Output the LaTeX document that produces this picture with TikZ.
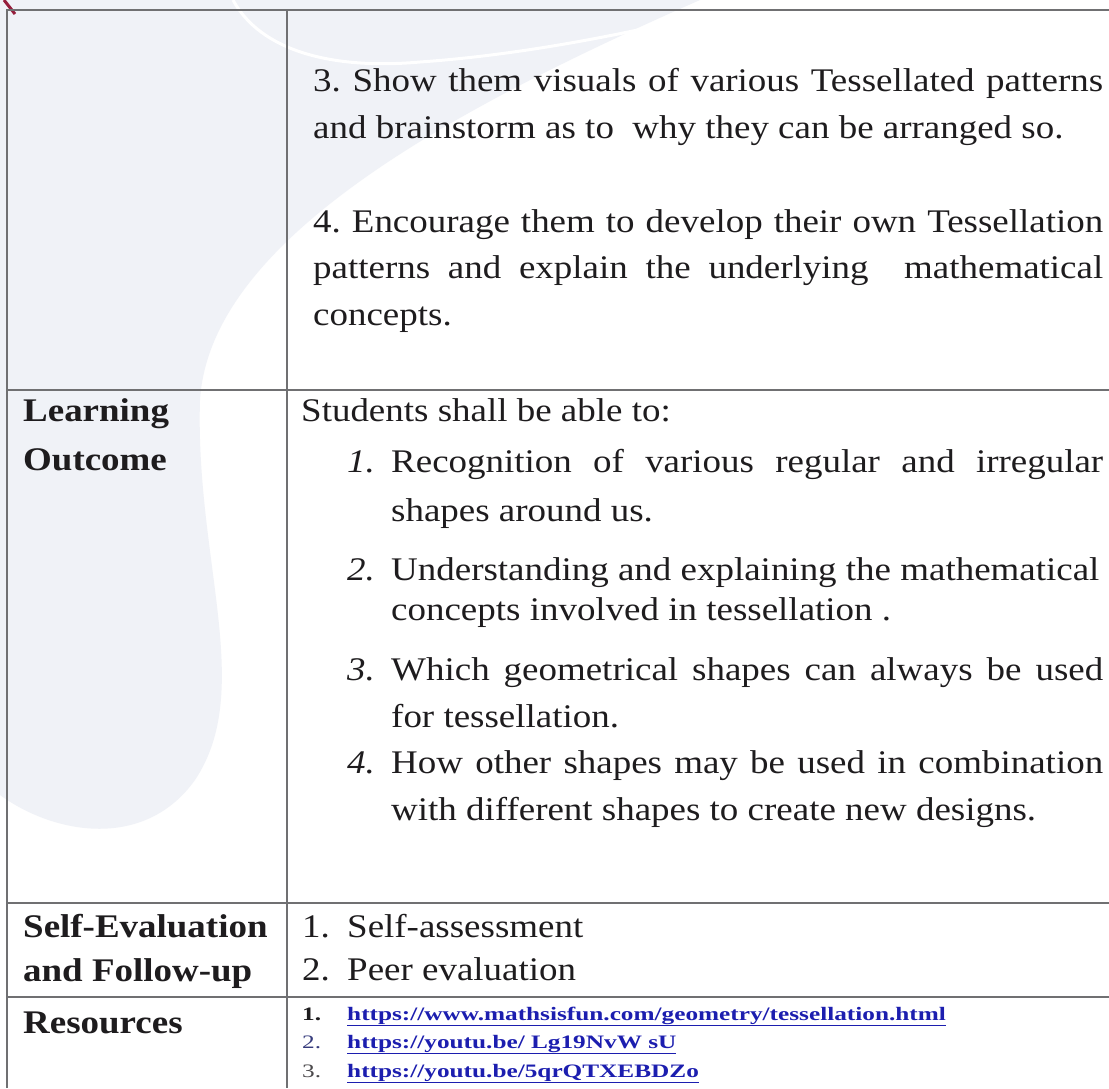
\documentclass[tikz,border=0pt]{standalone}
\usepackage{fontspec}
\setmainfont[FakeStretch=1.12]{Liberation Serif}
\newfontfamily\linkfont[FakeStretch=1.33]{Liberation Serif}

\definecolor{ink}{RGB}{30,28,30}
\definecolor{rulegrey}{RGB}{112,112,114}
\definecolor{tint}{RGB}{240,242,247}
\definecolor{linkblue}{RGB}{28,30,175}
\definecolor{navy}{RGB}{55,60,125}
\definecolor{logored}{RGB}{150,30,60}

\newcommand{\bodysize}{\fontsize{33}{47}\selectfont}
\newcommand{\linksize}{\linkfont\fontsize{19}{28}\selectfont}

\tikzset{
  txt/.style={anchor=base west,inner sep=0pt,text=ink,font=\bodysize},
  head/.style={txt,font=\bodysize\bfseries},
  num/.style={txt,font=\bodysize\itshape},
  link/.style={anchor=base west,inner sep=0pt,text=linkblue,font=\linksize\bfseries},
  gridline/.style={draw=rulegrey,line width=1.8pt}
}

\frenchspacing

\begin{document}
\begin{tikzpicture}[x=1pt,y=-1pt]

\useasboundingbox (0,0) rectangle (1109,1088);

% background watermark
\fill[white] (0,0) rectangle (1109,1088);
\fill[tint] (0,0) -- (700,0) .. controls (450,110) and (210,240) .. (200,400) .. controls (195,560) and (255,690) .. (195,780) .. controls (145,850) and (55,835) .. (0,795) -- cycle;
\draw[white,line width=3pt] (233,0) .. controls (260,50) and (330,70) .. (420,62) .. controls (520,55) and (620,35) .. (700,16);
\draw[logored,line width=3pt] (4,0) -- (15,14);

% table rules
\draw[gridline] (7,1088) -- (7,10) -- (1109,10);
\draw[gridline] (287,10) -- (287,1088);
\foreach \y in {390,903,997}
  \draw[gridline] (7,\y) -- (1109,\y);

% first row
\node (showA) [txt] at (313,91) {\makebox[790pt][s]{3. Show them visuals of various Tessellated patterns}};
\node (showB) [txt] at (313,138) {and brainstorm as to\ \ why they can be arranged so.};
\node (encA) [txt] at (313,232) {\makebox[790pt][s]{4. Encourage them to develop their own Tessellation}};
\node (encB) [txt] at (313,278) {\makebox[790pt][s]{patterns and explain the underlying\ \ mathematical}};
\node (encC) [txt] at (313,325) {concepts.};

% learning outcome
\node (learn) [head] at (23,421) {Learning};
\node (outc) [head] at (23,470) {Outcome};
\node (able) [txt] at (301,421) {Students shall be able to:};
\node (n1) [num] at (347,472) {1.};
\node (i1a) [txt] at (391,472) {\makebox[712pt][s]{Recognition of various regular and irregular}};
\node (i1b) [txt] at (391,521) {shapes around us.};
\node (n2) [num] at (347,580) {2.};
\node (i2a) [txt] at (391,580) {Understanding and explaining the mathematical};
\node (i2b) [txt] at (391,620) {concepts involved in tessellation .};
\node (n3) [num] at (347,680) {3.};
\node (i3a) [txt] at (391,680) {\makebox[712pt][s]{Which geometrical shapes can always be used}};
\node (i3b) [txt] at (391,727) {for tessellation.};
\node (n4) [num] at (347,773) {4.};
\node (i4a) [txt] at (391,773) {\makebox[712pt][s]{How other shapes may be used in combination}};
\node (i4b) [txt] at (391,820) {with different shapes to create new designs.};

% self evaluation
\node (selfev) [head] at (23,937) {Self-Evaluation};
\node (follow) [head] at (23,981) {and Follow-up};
\node (m1) [txt] at (302,937) {1.};
\node (self) [txt] at (347,937) {Self-assessment};
\node (m2) [txt] at (302,980) {2.};
\node (peer) [txt] at (347,980) {Peer evaluation};

% resources
\node (res) [head] at (23,1033) {Resources};
\node (k1) [link,text=ink] at (302,1020) {1.};
\node (u1) [link] at (347,1020) {\underline{https://www.mathsisfun.com/geometry/tessellation.html}};
\node (k2) [link,text=navy,font=\linksize] at (302,1048) {2.};
\node (u2) [link] at (347,1048) {\underline{https://youtu.be/ Lg19NvW sU}};
\node (k3) [link,text=ink!80,font=\linksize] at (302,1077) {3.};
\node (u3) [link] at (347,1077) {\underline{https://youtu.be/5qrQTXEBDZo}};

\end{tikzpicture}
\end{document}
